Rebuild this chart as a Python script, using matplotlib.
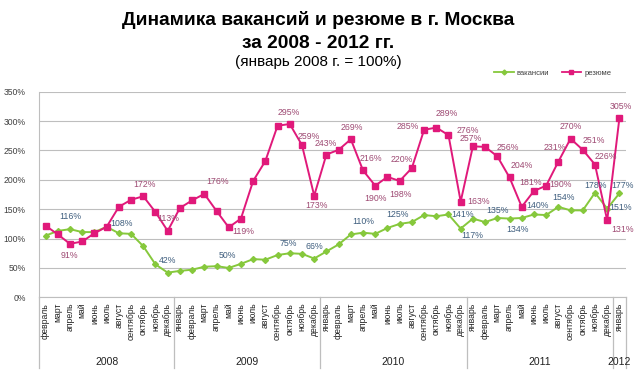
import matplotlib
matplotlib.use('Agg')
import matplotlib.pyplot as plt
from matplotlib.lines import Line2D

plt.rcParams['font.family'] = ['Liberation Sans', 'DejaVu Sans']

# Data (январь 2008 = 100%)
months = ['январь', 'февраль', 'март', 'апрель', 'май', 'июнь', 'июль',
          'август', 'сентябрь', 'октябрь', 'ноябрь', 'декабрь']
month_labels = months[1:] + months * 3 + months[:1]
years = ['2008', '2009', '2010', '2011', '2012']
year_len = [11, 12, 12, 12, 1]

vacancies = [105, 113, 116, 111, 111, 120, 109, 108, 87, 56, 42,
             45, 47, 52, 53, 50, 57, 65, 64, 72, 75, 74, 66,
             78, 90, 107, 110, 108, 118, 125, 128, 140, 138, 141, 117,
             134, 128, 135, 134, 135, 141, 140, 154, 148, 148, 178, 151,
             177]
resume = [122, 107, 91, 95, 109, 120, 154, 166, 172, 145, 113,
          152, 165, 176, 147, 119, 134, 198, 232, 292, 295, 259, 173,
          243, 251, 269, 216, 190, 205, 198, 220, 285, 289, 276, 163,
          257, 256, 240, 204, 154, 181, 190, 231, 270, 251, 226, 131,
          305]

# which points get a value label, with offset in pixels
vac_labels = {2: (0, 13), 7: (-10, 10), 10: (0, 12), 15: (-1, 12), 20: (-1, 10),
              22: (0, 12), 26: (0, 11), 29: (-2, 9), 33: (14, 0), 34: (12, -7),
              37: (0, 7), 38: (8, -11), 41: (-9, 10), 42: (5, 9), 45: (0, 7),
              46: (13, 1), 47: (3, 8)}
res_labels = {2: (-1, -12), 8: (1, 12), 10: (1, 12), 13: (13, 12), 15: (14, -4),
              20: (-1, 11), 21: (7, 9), 22: (2, -10), 23: (-1, 11), 25: (1, 12),
              26: (8, 12), 27: (0, -13), 29: (1, -14), 30: (-10, 9), 31: (-16, 3),
              32: (10, 14), 33: (19, 5), 34: (18, 0), 35: (-2, 8), 36: (23, -1),
              38: (12, 12), 40: (-3, 8), 41: (14, 1), 42: (-4, 14), 43: (0, 12),
              44: (11, 9), 45: (11, 8), 46: (15, -9), 47: (1, 12)}

green = '#86C83C'
pink = '#E0197A'
green_txt = '#3F5E7E'
pink_txt = '#9E4A73'

fig = plt.figure(figsize=(6.36, 3.82), dpi=100)
ax = fig.add_axes([0.0621, 0.2217, 0.9214, 0.5383])

x = list(range(len(month_labels)))
ax.plot(x, vacancies, color=green, lw=1.4, marker='D', ms=3, mec=green, mfc=green)
ax.plot(x, resume, color=pink, lw=1.4, marker='s', ms=4.5, mec=pink, mfc=pink)

for i, (dx, dy) in vac_labels.items():
    ax.annotate(f'{vacancies[i]}%', (i, vacancies[i]), xytext=(dx, dy),
                textcoords='offset pixels', ha='center', va='center',
                fontsize=6.3, color=green_txt)
for i, (dx, dy) in res_labels.items():
    ax.annotate(f'{resume[i]}%', (i, resume[i]), xytext=(dx, dy),
                textcoords='offset pixels', ha='center', va='center',
                fontsize=6.3, color=pink_txt)

ax.set_xlim(-0.5, len(x) - 0.5)
ax.set_ylim(0, 350)
ax.set_yticks(range(0, 351, 50))
ax.set_yticklabels([f'{v}%' for v in range(0, 351, 50)], fontsize=6.2, color='#404040')
ax.grid(axis='y', color='#BEBEBE', lw=0.8)
ax.set_axisbelow(True)
for s in ['top', 'right']:
    ax.spines[s].set_visible(False)
ax.spines['left'].set_color('#BEBEBE')
ax.spines['bottom'].set_color('#BEBEBE')
ax.tick_params(axis='y', length=0, pad=10)

ax.set_xticks(x)
ax.set_xticklabels(month_labels, rotation=90, fontsize=6.2, color='#202020', va='top')
ax.tick_params(axis='x', length=0, pad=4)

# year groups and separators
trans = ax.get_xaxis_transform()
start = 0
bounds = [-0.5]
for yr, n in zip(years, year_len):
    ax.text(start + (n - 1) / 2, -0.315, yr, transform=trans, ha='center', va='center',
            fontsize=7.5, color='#202020')
    start += n
    bounds.append(start - 0.5)
for b in bounds:
    ax.plot([b, b], [0, -0.345], transform=trans, color='#BEBEBE', lw=0.9, clip_on=False)

# titles
fig.text(0.5, 0.948, 'Динамика вакансий и резюме в г. Москва', ha='center', va='center',
         fontsize=13.8, fontweight='bold')
fig.text(0.5, 0.887, 'за 2008 - 2012 гг.', ha='center', va='center',
         fontsize=13.8, fontweight='bold')
fig.text(0.5, 0.838, '(январь 2008 г. = 100%)', ha='center', va='center', fontsize=11)

handles = [Line2D([], [], color=green, lw=1.3, marker='D', ms=2.5),
           Line2D([], [], color=pink, lw=1.3, marker='s', ms=3.5)]
fig.legend(handles, ['вакансии', 'резюме'], loc='center', bbox_to_anchor=(0.869, 0.808),
           ncol=2, frameon=False, fontsize=5.5, handlelength=2.6, handletextpad=0.4,
           columnspacing=1.6, labelcolor='#404040')

fig.savefig('out.png', dpi=100)
